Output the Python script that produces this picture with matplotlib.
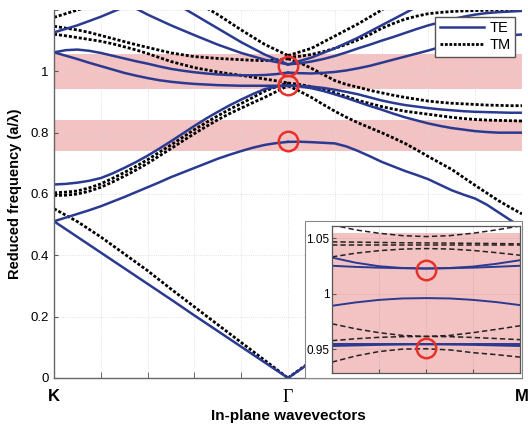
import matplotlib
matplotlib.use("Agg")
import matplotlib.pyplot as plt
import numpy as np
from matplotlib.patches import Rectangle

nan = np.nan

# path coordinate: K = 0, Gamma = 1, M = 2
x_kg = [0.0, 0.1, 0.2, 0.3, 0.4, 0.5, 0.6, 0.7, 0.8, 0.9, 1.0]
x_kgf = [round(0.05 * i, 2) for i in range(21)]
x_gm = [1.0, 1.1, 1.2, 1.3, 1.4, 1.5, 1.6, 1.7, 1.8, 1.9, 2.0]
x_gmf = [round(1.0 + 0.05 * i, 2) for i in range(21)]

# K -> Gamma, TE (solid)
te1_kg = [0.511, 0.46, 0.409, 0.358, 0.307, 0.256, 0.204, 0.153, 0.102, 0.051, 0.0]
te2_kg = [0.511, 0.523, 0.535, 0.547, 0.56, 0.575, 0.59, 0.606, 0.622, 0.638, 0.655,
          0.67, 0.685, 0.70, 0.715, 0.728, 0.74, 0.751, 0.76, 0.766, 0.77]
te3_kg = [0.631, 0.633, 0.637, 0.643, 0.652, 0.667, 0.685, 0.704, 0.725, 0.748, 0.772,
          0.797, 0.822, 0.846, 0.868, 0.889, 0.908, 0.926, 0.942, 0.95, 0.954]
te4_kg = [1.062, 1.051, 1.04, 1.028, 1.017, 1.006, 0.995, 0.986, 0.978, 0.971, 0.966,
          0.962, 0.959, 0.957, 0.955, 0.954, 0.953, 0.953, 0.953, 0.953, 0.954]
te5_kg = [1.062, 1.069, 1.071, 1.067, 1.06, 1.051, 1.042, 1.033, 1.025, 1.016, 1.008,
          1.002, 0.997, 0.993, 0.99, 0.988, 0.987, 0.987, 0.988, 0.991, 0.996]
te6_kg = [1.127, 1.15, 1.178, 1.21, 1.245, nan, nan, nan, nan, nan, nan]
te7_kg = [nan, nan, nan, 1.225, 1.185, 1.15, 1.118, 1.087, 1.06, 1.038, 1.0225]
te8_kg = [nan, nan, nan, nan, nan, 1.23, 1.185, 1.14, 1.095, 1.055, 1.0225]

# K -> Gamma, TM (dotted)
tm1_kg = [0.552, 0.51, 0.46, 0.405, 0.35, 0.29, 0.232, 0.174, 0.116, 0.058, 0.0]
tm2_kg = [0.595, 0.596, 0.60, 0.609, 0.622, 0.639, 0.658, 0.678, 0.70, 0.724, 0.748,
          0.773, 0.797, 0.82, 0.842, 0.862, 0.88, 0.898, 0.915, 0.934, 0.953]
tm3_kg = [0.604, 0.606, 0.61, 0.62, 0.633, 0.651, 0.67, 0.69, 0.712, 0.736, 0.76,
          0.785, 0.81, 0.833, 0.855, 0.876, 0.895, 0.915, 0.935, 0.95, 0.962]
tm4_kg = [1.121, 1.116, 1.11, 1.104, 1.098, 1.09, 1.08, 1.07, 1.058, 1.045, 1.032,
          1.022, 1.012, 1.005, 0.998, 0.992, 0.987, 0.981, 0.975, 0.969, 0.962]
tm5_kg = [1.147, 1.141, 1.135, 1.127, 1.117, 1.107, 1.097, 1.087, 1.078, 1.069, 1.06,
          1.054, 1.048, 1.045, 1.042, 1.04, 1.038, 1.036, 1.035, 1.037, 1.041]
tm6_kg = [1.176, 1.2, 1.224, nan, nan, nan, nan, nan, nan, nan, nan]
tm7_kg = [nan, nan, nan, nan, nan, nan, 1.23, 1.185, 1.135, 1.088, 1.0515]

# Gamma -> M, TE
te1_gm = [0.0, 0.053, 0.105, 0.157, 0.207, 0.255, 0.30, 0.34, 0.375, 0.40, 0.41]
te2_gm = [0.77, 0.7705, 0.769, 0.767, 0.765, 0.755, 0.74, 0.723, 0.705, 0.69, 0.675,
          0.662, 0.648, 0.63, 0.612, 0.598, 0.585, 0.565, 0.54, 0.515, 0.49]
te3_gm = [0.954, 0.951, 0.945, 0.936, 0.925, 0.913, 0.90, 0.887, 0.875, 0.862, 0.85,
          0.84, 0.83, 0.822, 0.815, 0.81, 0.805, 0.802, 0.80, 0.80, 0.80]
te4_gm = [0.954, 0.953, 0.95, 0.946, 0.94, 0.933, 0.925, 0.915, 0.905, 0.897, 0.89,
          0.885, 0.88, 0.876, 0.873, 0.87, 0.868, 0.867, 0.866, 0.865, 0.865]
te5_gm = [0.996, 0.994, 0.993, 0.995, 0.998, 1.003, 1.01, 1.018, 1.028, 1.038, 1.048,
          1.058, 1.068, 1.079, 1.09, 1.098, 1.105, 1.11, 1.115, 1.118, 1.12]
te6_gm = [1.0225, 1.026, 1.032, 1.04, 1.05, 1.062, 1.075, 1.087, 1.10, 1.112, 1.125,
          1.138, 1.15, 1.16, 1.17, 1.178, 1.185, 1.19, 1.193, 1.195, 1.197]
te7_gm = [1.0225, 1.045, 1.075, 1.11, 1.15, 1.19, 1.23, nan, nan, nan, nan]

# Gamma -> M, TM
tm1_gm = [0.0, 0.055, 0.11, 0.165, 0.218, 0.27, 0.32, 0.365, 0.405, 0.435, 0.45]
tm2_gm = [0.953, 0.935, 0.915, 0.892, 0.87, 0.85, 0.832, 0.816, 0.80, 0.783, 0.765,
          0.744, 0.722, 0.701, 0.68, 0.654, 0.628, 0.603, 0.578, 0.556, 0.535]
tm3_gm = [0.962, 0.957, 0.95, 0.941, 0.93, 0.918, 0.905, 0.895, 0.885, 0.877, 0.87,
          0.865, 0.86, 0.855, 0.85, 0.846, 0.843, 0.841, 0.84, 0.839, 0.838]
tm4_gm = [1.046, 1.049, 1.055, 1.064, 1.075, 1.088, 1.103, 1.12, 1.14, 1.156, 1.17,
          1.18, 1.188, 1.192, 1.195, 1.197, 1.198, 1.199, 1.2, 1.201, 1.202]
tm5_gm = [1.041, 1.028, 1.01, 0.99, 0.97, 0.957, 0.948, 0.938, 0.93, 0.922, 0.915,
          0.909, 0.903, 0.899, 0.896, 0.894, 0.892, 0.89, 0.889, 0.888, 0.888]
tm7_gm = [1.0515, 1.075, 1.115, 1.155, 1.2, 1.245, nan, nan, nan, nan, nan]

# highlighted gaps and degeneracy markers
bands = [(0.74, 0.841), (0.941, 1.057)]
circ_y = [0.772, 0.957, 1.019]

# inset around Gamma
x_in = [0.95, 0.9625, 0.975, 0.9875, 1.0, 1.0125, 1.025, 1.0375, 1.05]
te_in = [
    [1.0326, 1.028, 1.0248, 1.0232, 1.0227, 1.0232, 1.0245, 1.027, 1.0302],
    [1.0252, 1.0242, 1.0235, 1.023, 1.0228, 1.023, 1.0235, 1.0243, 1.0252],
    [0.9892, 0.9922, 0.9945, 0.9958, 0.9961, 0.9958, 0.9945, 0.9925, 0.9898],
    [0.9545, 0.9545, 0.9545, 0.9545, 0.9545, 0.9545, 0.9545, 0.9545, 0.9545],
    [0.953, 0.9535, 0.954, 0.9543, 0.9545, 0.9543, 0.954, 0.9535, 0.953],
]
tm_in = [
    [1.062, 1.0575, 1.0545, 1.0523, 1.0515, 1.0523, 1.0545, 1.0575, 1.061],
    [1.0467, 1.0465, 1.0462, 1.0459, 1.0458, 1.0456, 1.0454, 1.0452, 1.0449],
    [1.0437, 1.0437, 1.0437, 1.0437, 1.0437, 1.0437, 1.0437, 1.0437, 1.0437],
    [1.0332, 1.0365, 1.0388, 1.0402, 1.0407, 1.0403, 1.039, 1.037, 1.0347],
    [0.973, 0.9685, 0.965, 0.9625, 0.9616, 0.9625, 0.965, 0.968, 0.9712],
    [0.9578, 0.9595, 0.9608, 0.9614, 0.9616, 0.9614, 0.9607, 0.9597, 0.9587],
    [0.9385, 0.944, 0.948, 0.9502, 0.9505, 0.9495, 0.947, 0.9452, 0.943],
]
circ_in = [1.0215, 0.9515]

BLUE = "#2b3a91"
PINK = "#f3c2c2"
TE_KW = dict(color=BLUE, lw=1.8, solid_joinstyle="round")
TM_KW = dict(color="black", lw=2.0, ls=(0, (1.1, 0.7)))

fig = plt.figure(figsize=(5.28, 4.30), dpi=100)
ax = fig.add_axes([54 / 528, 52 / 430, 468 / 528, 368 / 430])

for lo, hi in bands:
    ax.axhspan(lo, hi, color=PINK, lw=0, zorder=0.5)

for ys in [tm1_kg, tm6_kg, tm7_kg]:
    ax.plot(x_kg, ys, **TM_KW)
for ys in [tm2_kg, tm3_kg, tm4_kg, tm5_kg]:
    ax.plot(x_kgf, ys, **TM_KW)
for ys in [tm1_gm, tm7_gm]:
    ax.plot(x_gm, ys, **TM_KW)
for ys in [tm2_gm, tm3_gm, tm4_gm, tm5_gm]:
    ax.plot(x_gmf, ys, **TM_KW)
for ys in [te1_kg, te6_kg, te7_kg, te8_kg]:
    ax.plot(x_kg, ys, **TE_KW)
for ys in [te2_kg, te3_kg, te4_kg, te5_kg]:
    ax.plot(x_kgf, ys, **TE_KW)
for ys in [te1_gm, te7_gm]:
    ax.plot(x_gm, ys, **TE_KW)
for ys in [te2_gm, te3_gm, te4_gm, te5_gm, te6_gm]:
    ax.plot(x_gmf, ys, **TE_KW)

ax.plot([1.0] * len(circ_y), circ_y, ls="none", marker="o", ms=14, mfc="none",
        mec="#e8302a", mew=1.8, zorder=5)

ax.plot([], [], label="TE", **TE_KW)
ax.plot([], [], label="TM", color="black", lw=2.0, ls=(0, (1.0, 0.6)))
leg = ax.legend(loc="upper right", bbox_to_anchor=(0.985, 0.981), borderaxespad=0,
                handlelength=3.0, fancybox=False, framealpha=1,
                edgecolor="#555555", borderpad=0.3, labelspacing=0.2, handletextpad=0.4,
                prop={"family": "Liberation Sans", "size": 10.5})
leg.get_frame().set_linewidth(1.0)
leg.set_zorder(10)

ax.set_xlim(0, 2)
ax.set_ylim(0, 1.2)
ax.set_xticks([0, 1, 2])
ax.set_xticklabels(["K", "\u0393", "M"])
ax.set_xticks(np.arange(0.2, 2.0, 0.2), minor=True)
ax.set_yticks([0, 0.2, 0.4, 0.6, 0.8, 1.0])
ax.set_yticklabels(["0", "0.2", "0.4", "0.6", "0.8", "1"], family="Liberation Sans", fontsize=9.5)
ax.set_yticks([1.2], minor=True)
for i, lab in enumerate(ax.get_xticklabels()):
    if i == 1:
        lab.set_fontfamily("Liberation Serif")
        lab.set_fontsize(13)
    else:
        lab.set_fontfamily("Liberation Sans")
        lab.set_fontweight("bold")
        lab.set_fontsize(12)
ax.tick_params(axis="x", which="major", direction="in", length=0, pad=8)
ax.tick_params(axis="x", which="minor", direction="in", length=4, color="#555555")
ax.tick_params(axis="y", which="both", direction="in", length=3, color="#555555", pad=4)
ax.grid(True, which="both", color="#d8d8d8", lw=0.6, ls=":")
ax.set_axisbelow(True)
for s in ["top", "right"]:
    ax.spines[s].set_visible(False)
for s in ["left", "bottom"]:
    ax.spines[s].set_color("#666666")
    ax.spines[s].set_linewidth(1.0)

ax.set_xlabel("In-plane wavevectors", family="Liberation Sans", fontweight="bold",
              fontsize=11, labelpad=2)
ax.set_ylabel("Reduced frequency (a/\u03bb)", family="Liberation Sans", fontweight="bold",
              fontsize=10.5, labelpad=6)

# white backing of the inset (it covers the bands below)
fig.patches.append(Rectangle((305 / 528, 52 / 430), 217 / 528, 157 / 430,
                             transform=fig.transFigure, facecolor="white",
                             edgecolor="#888888", lw=0.8, zorder=3))

axi = fig.add_axes([332 / 528, 57 / 430, 188 / 528, 147 / 430], zorder=4)
axi.axhspan(0.90, 1.055, color=PINK, lw=0, zorder=0.5)
for ys in tm_in:
    axi.plot(x_in, ys, color="#222222", lw=1.1, ls=(0, (3.5, 2.0)))
for ys in te_in:
    axi.plot(x_in, ys, color=BLUE, lw=1.4)
axi.plot([1.0] * len(circ_in), circ_in, ls="none", marker="o", ms=14, mfc="none",
         mec="#e8302a", mew=1.8, zorder=5)
axi.set_xlim(0.95, 1.05)
axi.set_ylim(0.9287, 1.061)
axi.set_xticks([0.95, 0.975, 1.0, 1.025, 1.05])
axi.set_xticklabels([])
axi.set_yticks([0.95, 1.0, 1.05])
axi.set_yticklabels(["0.95", "1", "1.05"], family="Liberation Sans", fontsize=8.5)
axi.tick_params(direction="in", length=3, color="#555555", pad=2)
axi.grid(True, color="#c8a0a0", lw=0.5, ls=":")
for s in axi.spines.values():
    s.set_color("#555555")
    s.set_linewidth(0.9)

fig.savefig("out.png", dpi=100)
